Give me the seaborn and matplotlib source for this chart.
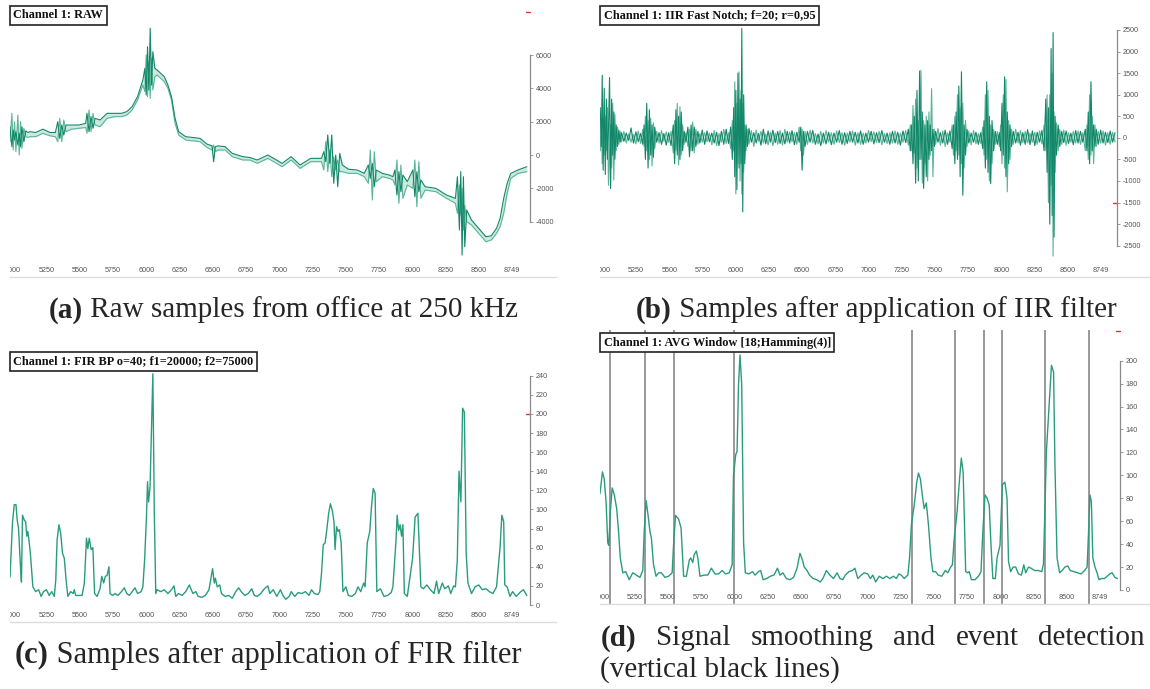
import matplotlib
matplotlib.use("Agg")
import matplotlib.pyplot as plt
import seaborn as sns

W, H = 1150, 689

# ---------------- data ----------------
x_ticks = [5000, 5250, 5500, 5750, 6000, 6250, 6500, 6750, 7000, 7250, 7500, 7750, 8000, 8250, 8500, 8749]
x_tick_labels = ["5000", "5250", "5500", "5750", "6000", "6250", "6500", "6750", "7000",
                 "7250", "7500", "7750", "8000", "8250", "8500", "8749"]

# RAW: two interleaved traces (a = dark, b = light)
raw_x = [4976, 4990, 5000, 5010, 5020, 5035, 5045, 5055, 5065, 5080, 5095, 5110, 5125, 5169, 5223, 5277,
         5317, 5335, 5350, 5365, 5380, 5397, 5438, 5492, 5545, 5555, 5570, 5585, 5600, 5615, 5653, 5706,
         5760, 5814, 5854, 5894, 5935, 5975, 5990, 6000, 6010, 6020, 6030, 6040, 6050, 6065, 6082, 6136,
         6163, 6190, 6217, 6244, 6297, 6351, 6405, 6458, 6495, 6507, 6520, 6539, 6593, 6647, 6727, 6781,
         6835, 6915, 7022, 7090, 7157, 7237, 7318, 7335, 7350, 7365, 7380, 7395, 7410, 7425, 7440, 7455,
         7475, 7520, 7587, 7640, 7670, 7685, 7700, 7715, 7730, 7775, 7828, 7855, 7870, 7885, 7900, 7915,
         7930, 7963, 8005, 8020, 8035, 8050, 8065, 8097, 8178, 8258, 8325, 8340, 8355, 8365, 8375, 8385,
         8395, 8410, 8446, 8500, 8554, 8594, 8634, 8661, 8688, 8714, 8741, 8795, 8862]
raw_a = [1700, 500, 1500, 900, 1400, 600, 1300, 500, 1700, 800, 1450, 1350, 1400, 1350, 1550, 1350,
         1350, 2000, 1000, 1800, 1200, 1800, 1800, 1800, 1900, 2500, 1400, 2300, 1600, 2200, 2100, 2500,
         2500, 2500, 2600, 2900, 3500, 4500, 5200, 3600, 6500, 3900, 7600, 4200, 6200, 5200, 5100, 4700,
         4200, 3500, 2200, 1400, 1100, 1050, 1000, 650, 550, -400, 500, 550, 500, 100, -100, -150,
         -300, 0, -500, -100, -600, -200, -200, 200, -400, 1200, -500, 1200, -1700, 0, -1900, 100,
         -600, -850, -900, -1100, -600, -1400, -500, -1900, -900, -1100, -1200, -1300, -900, -2400, -1000, -2200,
         -1200, -1600, -900, -2500, -1000, -2200, -1500, -1900, -2000, -2400, -2600, -1300, -4500, -1000, -6000, -1300,
         -5500, -3300, -3900, -4400, -4900, -4850, -4400, -3800, -2600, -1700, -1100, -900, -700]
raw_b = [800, 2500, 300, 2000, 200, 2400, 0, 2000, 400, 1600, 1100, 1050, 1100, 1100, 1300, 1150,
         1100, 800, 2200, 800, 2100, 1400, 1550, 1600, 1650, 1300, 2700, 1400, 2500, 1800, 1700, 2200,
         2300, 2300, 2400, 2700, 3300, 4200, 3800, 6000, 3500, 5600, 3400, 5800, 3900, 4700, 4800, 4400,
         4000, 3300, 1900, 1200, 900, 850, 800, 450, 300, 600, 200, 300, 300, -100, -300, -300,
         -500, -200, -700, -300, -800, -400, -400, -900, 800, -1000, 300, -1300, -100, -900, -300, -1000,
         -1000, -1100, -1100, -1300, -1700, 300, -2700, 200, -1600, -1300, -1400, -1500, -1800, -300, -2900, -600,
         -2600, -1800, -2000, -300, -3100, -400, -2600, -2100, -2200, -2600, -2900, -3500, -1800, -3600, -2000, -4500,
         -3000, -4000, -4200, -4700, -5200, -5100, -4700, -4300, -3500, -2300, -1400, -1100, -1000]

# IIR: two interleaved traces (a = dark, b = light)
iir_x = [4980, 4988, 4995, 5002, 5010, 5018, 5026, 5034, 5042, 5050, 5058, 5066, 5074, 5082, 5090, 5100,
         5110, 5120, 5130, 5140, 5158, 5176, 5194, 5212, 5230, 5248, 5266, 5284, 5300,
         5310, 5320, 5330, 5340, 5350, 5360, 5370, 5380, 5390, 5405, 5423, 5441, 5459, 5477, 5495, 5513,
         5530, 5540, 5550, 5560, 5570, 5580, 5590, 5600, 5612, 5625, 5640, 5652, 5664, 5676, 5688, 5700, 5715,
         5730, 5748, 5766, 5784, 5802, 5820, 5838, 5856, 5874, 5892, 5910, 5928, 5946, 5962,
         5975, 5985, 5993, 6001, 6009, 6017, 6025, 6033, 6040, 6046, 6053, 6060, 6068, 6078, 6088,
         6100, 6118, 6136, 6154, 6172, 6190, 6208, 6226, 6244, 6262, 6280, 6298, 6316, 6334, 6352, 6370,
         6388, 6406, 6424, 6442, 6460, 6478, 6490, 6500, 6510, 6522,
         6540, 6560, 6580, 6600, 6620, 6640, 6660, 6680, 6700, 6720, 6740, 6760, 6780, 6800, 6820, 6840,
         6860, 6880, 6900, 6920, 6940, 6960, 6980, 7000, 7020, 7040, 7060, 7080, 7100, 7120, 7140, 7160,
         7180, 7200, 7220, 7240, 7260, 7280, 7300, 7315,
         7325, 7335, 7345, 7355, 7365, 7375, 7385, 7395, 7405, 7415, 7425, 7435, 7445, 7455, 7465, 7475,
         7485, 7495, 7505, 7523, 7541, 7559, 7577, 7595, 7613, 7630,
         7640, 7650, 7660, 7670, 7680, 7690, 7700, 7710, 7720, 7730, 7742,
         7755, 7773, 7791, 7809, 7827, 7845, 7860,
         7870, 7880, 7890, 7900, 7910, 7920, 7930, 7942, 7955, 7970, 7985,
         7995, 8005, 8015, 8025, 8035, 8045, 8055, 8065, 8077,
         8090, 8108, 8126, 8144, 8162, 8180, 8198, 8216, 8234, 8252, 8270, 8288, 8306, 8322,
         8335, 8345, 8355, 8365, 8375, 8383, 8390, 8397, 8405, 8415, 8428, 8440, 8455,
         8470, 8488, 8506, 8524, 8542, 8560, 8578, 8596, 8614, 8632,
         8645, 8655, 8665, 8675, 8685, 8695, 8705, 8715,
         8730, 8748, 8766, 8784, 8802, 8820, 8838, 8856]
iir_a = [700, -200, 1450, -750, 1150, -850, 900, -500, 200, 1400, -1175, 900, -400, 600, -500, 300,
         -200, 180, -100, 120, -80, 110, -60, 230, -120, 140, -90, 100, -150,
         300, -500, 800, -700, 650, -400, 300, -450, 250, -100, 120, -150, 100, -170, 120, -180,
         300, -600, 650, -400, 500, -500, 600, -300, 150, -100, 250, -440, 300, -300, 250, -200, 150,
         -120, 180, -150, 160, -90, 110, -120, 130, -180, 150, -150, 200, -130, 250,
         -500, 700, -900, 1100, -1200, 1500, -700, 900, -600, 2535, -1716, 1000, -600, 300, -200,
         220, -100, 120, -120, 100, -170, 200, -140, 160, -100, 180, -110, 150, -130, 110, -140,
         150, -120, 170, -160, 130, -100, 250, -750, 150, -200,
         150, -100, 170, -150, 90, -180, 110, -140, 130, -160, 110, -100, 170, -150, 120, -130,
         150, -100, 130, -120, 160, -150, 110, -100, 150, -140, 120, -110, 170, -100, 110, -150,
         150, -120, 130, -170, 160, -110, 200, -300,
         300, -600, 500, -1050, 1100, -1000, 1550, -500, 600, -1170, 300, -900, 400, -500, 300, -300,
         200, -200, 150, -100, 120, -120, 180, -150, 160, -250,
         300, -600, 600, -500, 1200, -900, 1530, -1330, 300, -400, 200,
         -120, 110, -100, 130, -150, 120, -250,
         400, -700, 1300, -800, 500, -1060, 400, -300, 150, -150, 120,
         -300, 800, -400, 1415, -900, 600, -600, 300, -200,
         150, -120, 130, -170, 120, -150, 190, -160, 160, -180, 130, -100, 170, -300,
         900, -800, 700, -2000, 2070, -1800, 2440, -2300, 500, -400, 300, -200, 150,
         -110, 160, -130, 110, -160, 170, -120, 150, -100, 200,
         -300, 600, -600, 1300, -300, 300, -200, 200,
         -150, 180, -120, 130, -110, 160, -100, 120]
iir_b = [-300, 400, -600, 300, -400, 500, -300, 700, -1100, -400, 300, -700, 800, -980, 550, -300,
         250, -150, 150, -90, 150, -120, 90, -100, 80, -140, 160, -130, 200,
         -200, 500, -300, 400, -500, 450, -650, 350, -250, 150, -120, 170, -80, 140, -100, 150,
         -350, 400, -300, 800, -630, 720, -400, 300, -150, 120, -200, 200, -300, 370, -350, 200, -150,
         100, -100, 120, -90, 110, -160, 170, -180, 100, -100, 200, -130, 120, -250,
         400, -300, 1300, -1300, 800, -600, 1530, -1000, 1100, -1300, 800, -800, 300, -300, 200,
         -150, 170, -200, 180, -80, 150, -120, 90, -160, 130, -180, 110, -150, 170, -170, 200,
         -100, 140, -90, 120, -150, 250, -300, 200, -400, 150,
         -150, 180, -120, 100, -140, 150, -120, 170, -100, 120, -150, 160, -110, 120, -170, 110,
         -100, 160, -170, 120, -150, 110, -120, 170, -90, 140, -110, 150, -160, 100, -130, 120,
         -120, 160, -150, 110, -100, 170, -170, 300,
         -300, 750, -350, 900, -700, 400, -500, 1565, -1050, 400, -600, 500, -1000, 600, -400, 1140,
         -900, 200, -150, 220, -170, 160, -200, 120, -100, 300,
         -400, 500, -300, 1000, -400, 700, -600, 800, -700, 400, -200,
         160, -160, 170, -140, 100, -130, 250,
         -400, 1000, -500, 1100, -1000, 300, -600, 200, -150, 150, -200,
         300, -600, 1000, -700, 1350, -1250, 400, -500, 200,
         -150, 200, -120, 170, -110, 150, -120, 110, -100, 130, -150, 160, -140, 300,
         -300, 1000, -1500, 1000, -1100, 1500, -2740, 600, -800, 350, -300, 200, -150,
         180, -170, 120, -100, 150, -120, 160, -150, 120, -300,
         300, -500, 1000, -400, 500, -600, 300, -200,
         150, -120, 160, -170, 120, -150, 130, -100]

fir_x = [4976, 4995, 5008, 5021, 5030, 5040, 5056, 5062, 5070, 5083, 5094, 5102, 5110, 5121, 5129, 5148,
         5169, 5191, 5210, 5228, 5250, 5271, 5290, 5309, 5320, 5330, 5344, 5357, 5371, 5384, 5398, 5411,
         5432, 5451, 5459, 5470, 5492, 5518, 5535, 5551, 5561, 5572, 5586, 5599, 5612, 5631, 5653, 5666,
         5680, 5693, 5706, 5720, 5728, 5747, 5766, 5787, 5814, 5835, 5854, 5873, 5894, 5916, 5935, 5962,
         5975, 5988, 6002, 6010, 6018, 6029, 6039, 6050, 6061, 6072, 6082, 6109, 6136, 6163, 6190, 6209,
         6222, 6244, 6270, 6297, 6324, 6351, 6373, 6391, 6418, 6445, 6472, 6499, 6512, 6520, 6534, 6553,
         6566, 6593, 6620, 6647, 6673, 6695, 6714, 6741, 6767, 6794, 6813, 6835, 6861, 6888, 6915, 6929,
         6955, 6982, 7009, 7028, 7049, 7076, 7090, 7117, 7143, 7170, 7197, 7224, 7243, 7264, 7291, 7305,
         7318, 7331, 7345, 7358, 7372, 7385, 7399, 7412, 7420, 7431, 7442, 7452, 7466, 7479, 7501, 7520,
         7546, 7573, 7592, 7613, 7635, 7646, 7662, 7681, 7694, 7707, 7721, 7734, 7761, 7788, 7815, 7842,
         7855, 7877, 7887, 7898, 7909, 7920, 7930, 7941, 7963, 7984, 8003, 8022, 8043, 8065, 8084, 8110,
         8137, 8164, 8183, 8199, 8226, 8245, 8272, 8290, 8312, 8325, 8339, 8352, 8366, 8379, 8392, 8406,
         8419, 8446, 8473, 8500, 8527, 8554, 8580, 8607, 8634, 8661, 8674, 8688, 8696, 8714, 8735, 8755,
         8782, 8809, 8836, 8862]
fir_y = [29, 87, 105, 105, 89, 80, 37, 24, 94, 89, 87, 72, 77, 65, 54, 19,
         14, 16, 9, 14, 16, 10, 14, 9, 26, 68, 84, 75, 54, 49, 26, 9,
         14, 12, 16, 10, 10, 10, 23, 70, 59, 70, 58, 60, 12, 9, 17, 30,
         23, 30, 31, 40, 12, 10, 12, 10, 14, 18, 12, 10, 14, 18, 12, 14,
         19, 47, 92, 129, 108, 124, 180, 242, 96, 12, 16, 14, 16, 12, 16, 20,
         9, 12, 10, 14, 21, 12, 14, 9, 8, 10, 16, 38, 23, 28, 19, 21,
         12, 9, 10, 7, 14, 18, 14, 10, 12, 17, 10, 9, 12, 17, 20, 12,
         16, 9, 16, 10, 6, 9, 14, 9, 13, 12, 14, 10, 16, 12, 11, 14,
         33, 63, 65, 79, 96, 106, 99, 87, 58, 82, 77, 79, 65, 14, 19, 10,
         9, 12, 19, 14, 23, 19, 65, 77, 103, 122, 117, 14, 17, 9, 10, 13,
         19, 65, 94, 78, 84, 72, 84, 12, 9, 30, 49, 92, 96, 19, 17, 21,
         16, 12, 25, 12, 23, 17, 20, 12, 20, 19, 47, 140, 108, 206, 202, 54,
         23, 12, 19, 21, 16, 17, 14, 12, 19, 61, 94, 87, 21, 19, 9, 14,
         9, 13, 16, 10]

avg_x = [4989, 5008, 5021, 5035, 5048, 5056, 5067, 5081, 5097, 5115, 5129, 5142, 5161, 5183, 5209, 5236,
         5263, 5290, 5311, 5322, 5336, 5349, 5365, 5376, 5392, 5411, 5430, 5451, 5478, 5505, 5532, 5545,
         5558, 5580, 5599, 5618, 5639, 5661, 5671, 5687, 5698, 5714, 5725, 5741, 5773, 5800, 5827, 5854,
         5881, 5908, 5934, 5961, 5983, 5993, 6010, 6020, 6031, 6042, 6055, 6069, 6082, 6109, 6136, 6155,
         6181, 6197, 6216, 6243, 6270, 6297, 6324, 6343, 6364, 6391, 6418, 6445, 6471, 6493, 6512, 6525,
         6546, 6565, 6592, 6619, 6646, 6665, 6692, 6718, 6745, 6772, 6794, 6815, 6834, 6861, 6888, 6906,
         6928, 6954, 6976, 7003, 7022, 7041, 7062, 7089, 7116, 7143, 7169, 7196, 7218, 7236, 7255, 7277,
         7304, 7317, 7331, 7352, 7371, 7384, 7398, 7416, 7427, 7443, 7459, 7478, 7492, 7513, 7532, 7559,
         7586, 7604, 7626, 7639, 7653, 7674, 7693, 7706, 7720, 7739, 7755, 7766, 7782, 7809, 7835, 7854,
         7868, 7884, 7900, 7916, 7927, 7943, 7962, 7975, 7997, 8015, 8034, 8050, 8061, 8077, 8096, 8115,
         8136, 8158, 8176, 8190, 8211, 8230, 8257, 8284, 8311, 8324, 8346, 8365, 8384, 8400, 8410, 8426,
         8445, 8464, 8485, 8507, 8525, 8552, 8579, 8606, 8633, 8652, 8662, 8673, 8684, 8695, 8711, 8727,
         8741, 8760, 8782, 8803, 8821, 8840, 8861, 8880]
avg_y = [84, 103, 97, 77, 41, 39, 68, 89, 83, 71, 51, 28, 15, 16, 9, 15,
         13, 11, 17, 51, 78, 67, 51, 45, 22, 12, 15, 15, 11, 12, 15, 45,
         65, 62, 54, 12, 12, 26, 28, 24, 31, 34, 28, 12, 13, 13, 19, 14,
         14, 17, 14, 15, 22, 100, 118, 121, 179, 205, 179, 42, 15, 14, 16, 13,
         16, 17, 9, 10, 12, 13, 19, 13, 15, 10, 9, 11, 19, 32, 26, 20,
         17, 13, 10, 9, 7, 10, 17, 13, 10, 15, 10, 9, 13, 16, 17, 19,
         10, 13, 15, 14, 10, 13, 7, 12, 10, 12, 10, 12, 10, 14, 13, 10,
         13, 28, 57, 74, 94, 102, 97, 80, 71, 76, 57, 28, 16, 16, 13, 12,
         17, 15, 20, 22, 45, 68, 97, 115, 103, 16, 15, 16, 9, 9, 12, 16,
         51, 83, 80, 74, 45, 10, 10, 28, 39, 92, 94, 80, 25, 16, 20, 20,
         14, 13, 22, 15, 20, 19, 17, 17, 16, 23, 121, 158, 196, 190, 109, 28,
         15, 17, 20, 21, 17, 16, 15, 14, 17, 20, 48, 83, 77, 28, 20, 15,
         9, 10, 10, 12, 14, 15, 11, 10]

event_x = [5068, 5325, 5545, 5994, 7336, 7662, 7874, 8011, 8339, 8666]

raw_yticks = [-4000, -2000, 0, 2000, 4000, 6000]
iir_yticks = [-2500, -2000, -1500, -1000, -500, 0, 500, 1000, 1500, 2000, 2500]
fir_yticks = [0, 20, 40, 60, 80, 100, 120, 140, 160, 180, 200, 220, 240]
avg_yticks = [0, 20, 40, 60, 80, 100, 120, 140, 160, 180, 200]

red_marks = {"a": 8580, "b": -1500, "c": 200, "d": 226}

titles = ["Channel 1: RAW", "Channel 1: IIR Fast Notch; f=20; r=0,95",
          "Channel 1: FIR BP o=40; f1=20000; f2=75000", "Channel 1: AVG Window [18;Hamming(4)]"]
captions = [("(a)", "Raw samples from office at 250 kHz"),
            ("(b)", "Samples after application of IIR filter"),
            ("(c)", "Samples after application of FIR filter"),
            ("(d)", "Signal smoothing and event detection"),
            ("", "(vertical black lines)")]

# ---------------- style ----------------
sns.set_theme(style="white")
plt.rcParams["font.family"] = ["Liberation Serif", "DejaVu Serif"]

DARK = "#13876a"
LIGHT = "#5ab598"
FILL = "#cbe9de"
LINE = "#2a9c7e"
TICKFONT = ["Liberation Sans Narrow", "Liberation Sans", "DejaVu Sans"]

fig = plt.figure(figsize=(W / 100, H / 100), dpi=100)


def make_axes(L, R, T, B, x5000, px250, v1, p1, v2, p2, spine_px, yticks):
    ax = fig.add_axes([L / W, 1 - B / H, (R - L) / W, (B - T) / H])
    ax.patch.set_alpha(0)
    x0 = 5000 - (x5000 - L) / px250 * 250
    x1 = x0 + (R - L) / px250 * 250
    upp = (v1 - v2) / (p2 - p1)
    ytop = v1 + (p1 - T) * upp
    ybot = v1 - (B - p1) * upp
    ax.set_xlim(x0, x1)
    ax.set_ylim(ybot, ytop)
    for s in ("top", "left"):
        ax.spines[s].set_visible(False)
    ax.spines["bottom"].set_color("#dcdcdc")
    ax.spines["bottom"].set_linewidth(1.0)
    ax.spines["right"].set_position(("axes", (spine_px - L) / (R - L)))
    ax.spines["right"].set_bounds(yticks[0], yticks[-1])
    ax.spines["right"].set_color("#8a8a8a")
    ax.spines["right"].set_linewidth(0.9)
    ax.yaxis.tick_right()
    ax.set_yticks(yticks)
    ax.set_yticklabels([str(t) for t in yticks], fontfamily=TICKFONT)
    ax.set_xticks(x_ticks)
    ax.set_xticklabels(x_tick_labels, fontfamily=TICKFONT)
    ax.tick_params(axis="x", direction="in", length=2.5, width=0.6, color="#999999",
                   labelsize=5.2, labelcolor="#555555", pad=-7)
    ax.tick_params(axis="y", direction="out", length=2.5, width=0.6, color="#8a8a8a",
                   labelsize=5.2, labelcolor="#555555", pad=1.5)
    ax.set_xlabel("")
    ax.set_ylabel("")
    ax.grid(False)
    for lbl in ax.get_xticklabels():
        lbl.set_clip_on(True)
        lbl.set_clip_box(ax.bbox)
    return ax


def red_mark(ax, spine_px, L, R, v):
    fx = (spine_px - L) / (R - L)
    ax.plot([fx - 0.007, fx], [v, v], color="#d9382f", lw=1.0,
            transform=ax.get_yaxis_transform(), clip_on=False)


def title_box(x, y, text):
    fig.text(x / W, 1 - y / H, text, ha="left", va="center", fontsize=8.8,
             fontweight="bold", family=["Liberation Serif", "DejaVu Serif"], color="#111111",
             bbox=dict(boxstyle="square,pad=0.28", fc="white", ec="#222222", lw=1.2), zorder=10)


def two_traces(ax, x, a, b):
    ax.fill_between(x, a, b, color=FILL, lw=0)
    sns.lineplot(x=x, y=b, ax=ax, color=LIGHT, lw=0.8, sort=False, estimator=None)
    sns.lineplot(x=x, y=a, ax=ax, color=DARK, lw=0.8, sort=False, estimator=None)


# ---- panel a ----
axa = make_axes(10, 556, 0, 277, 13.2, 33.25, 6000, 55, -4000, 221.7, 530, raw_yticks)
two_traces(axa, raw_x, raw_a, raw_b)
red_mark(axa, 530, 10, 556, red_marks["a"])

# ---- panel b ----
axb = make_axes(600, 1150, 0, 277, 602.9, 33.2, 2500, 30, -2500, 245.7, 1117, iir_yticks)
two_traces(axb, iir_x, iir_a, iir_b)
red_mark(axb, 1117, 600, 1150, red_marks["b"])

# ---- panel c ----
axc = make_axes(10, 556, 338, 622, 13.2, 33.25, 240, 375.7, 0, 605, 530, fir_yticks)
sns.lineplot(x=fir_x, y=fir_y, ax=axc, color=LINE, lw=1.0, sort=False, estimator=None)
red_mark(axc, 530, 10, 556, red_marks["c"])

# ---- panel d ----
axd = make_axes(600, 1150, 330, 604, 601.4, 33.25, 200, 360.7, 0, 590, 1120, avg_yticks)
for ex in event_x:
    axd.axvline(ex, color="#7d7d7d", lw=1.1, zorder=1)
sns.lineplot(x=avg_x, y=avg_y, ax=axd, color=LINE, lw=1.0, sort=False, estimator=None, zorder=3)
red_mark(axd, 1120, 600, 1150, red_marks["d"])

# ---- title boxes ----
title_box(13.5, 15.5, titles[0])
title_box(603.5, 15.5, titles[1])
title_box(13.5, 361.5, titles[2])
title_box(603.5, 342.5, titles[3])

# ---- captions ----
SERIF = ["Liberation Serif", "DejaVu Serif"]
renderer = fig.canvas.get_renderer()


def caption_centered(cx, cy, tag, body, fs):
    t1 = fig.text(0, 0, tag, fontsize=fs, fontweight="bold", family=SERIF, va="center")
    t2 = fig.text(0, 0, " " + body, fontsize=fs, family=SERIF, va="center")
    w1 = t1.get_window_extent(renderer).width
    w2 = t2.get_window_extent(renderer).width
    x0 = cx - (w1 + w2) / 2
    t1.set_position((x0 / W, 1 - cy / H))
    t2.set_position(((x0 + w1) / W, 1 - cy / H))


caption_centered(283, 310, captions[0][0], captions[0][1], 21)
caption_centered(876, 310, captions[1][0], captions[1][1], 21)
caption_centered(268, 655, captions[2][0], captions[2][1], 22)

# justified caption (d)
CAPFS = 21
words = [(captions[3][0], "bold")] + [(w, "normal") for w in captions[3][1].split()]
texts = [fig.text(0, 1 - 638 / H, w, fontsize=CAPFS, fontweight=fw, family=SERIF, va="center")
         for w, fw in words]
widths = [t.get_window_extent(renderer).width for t in texts]
left, right = 600.5, 1145
gap = (right - left - sum(widths)) / (len(texts) - 1)
xpos = left
for t, w in zip(texts, widths):
    t.set_x(xpos / W)
    xpos += w + gap
fig.text(left / W, 1 - 670 / H, captions[4][1], fontsize=CAPFS, family=SERIF, va="center")

fig.savefig("out.png", dpi=100)
